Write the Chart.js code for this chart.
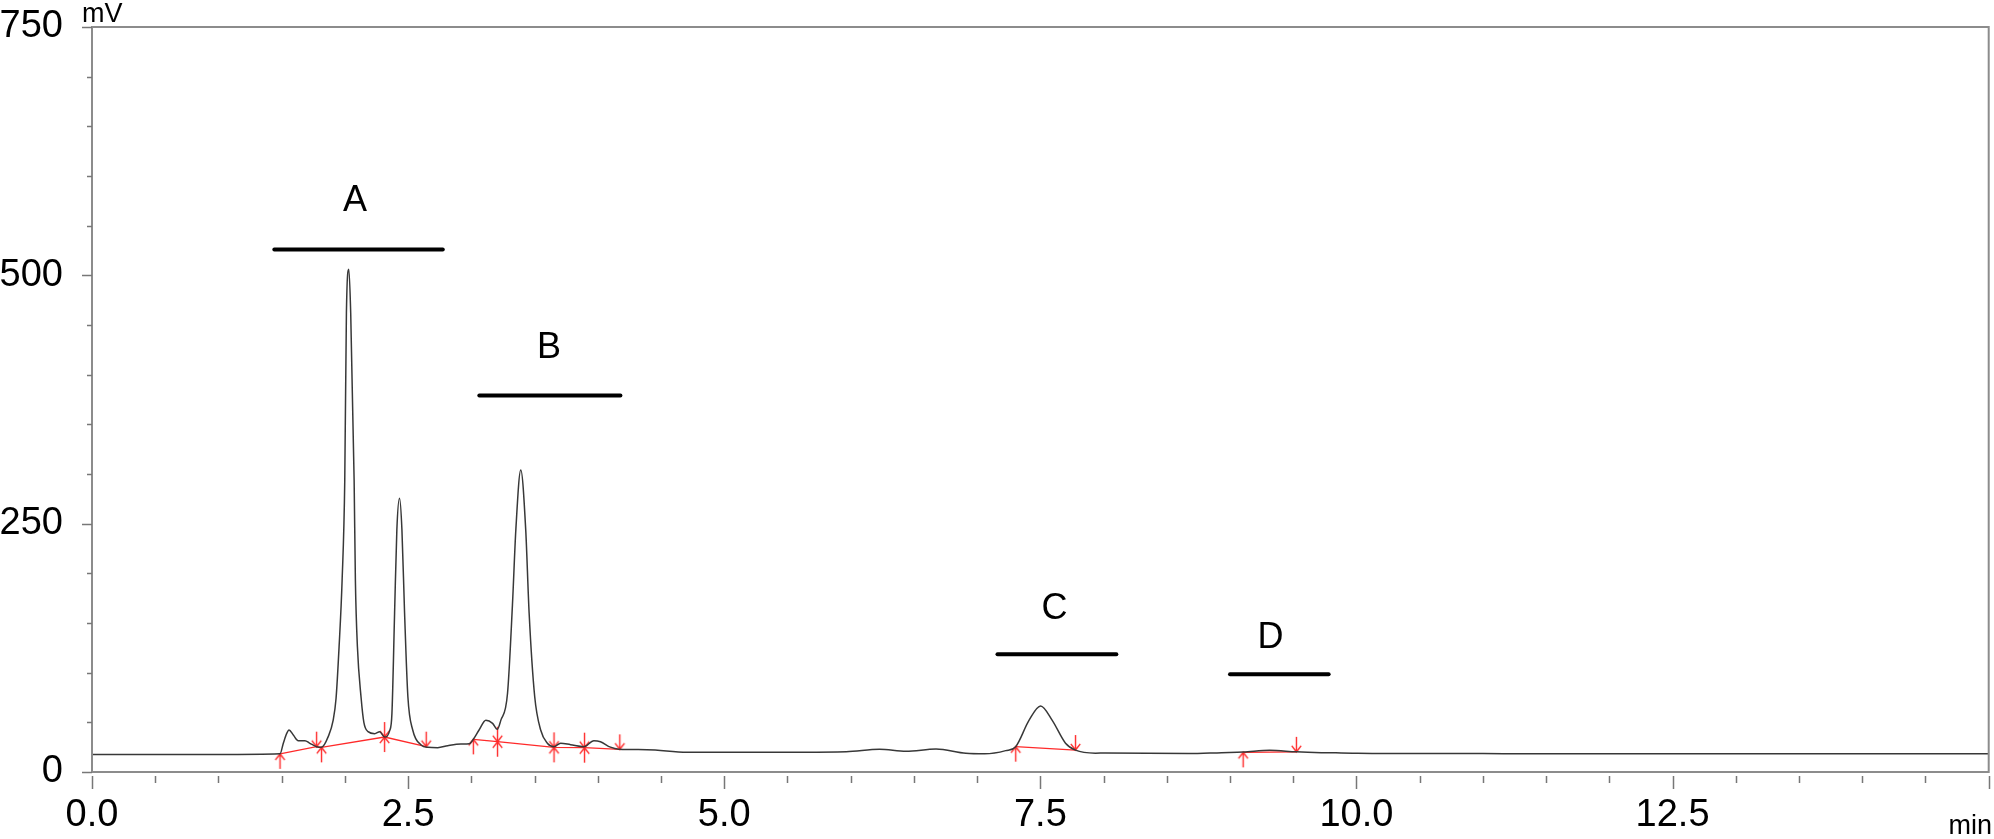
<!DOCTYPE html>
<html lang="en">
<head>
    <meta charset="UTF-8">
    <title>Chromatogram</title>
    <script src="https://cdn.jsdelivr.net/npm/chart.js"></script>
    <style>
        html, body { margin: 0; padding: 0; background: #fff; }
        canvas { display: block; }
    </style>
</head>
<body>
<canvas id="chromChart" width="1994" height="839"></canvas>

<script>
    // detector trace (retention time in min, signal in mV)
    const timeMin = [0.0, 1.0, 1.487, 1.513, 1.539, 1.558, 1.592, 1.631, 1.684, 1.723, 1.776, 1.815, 1.868, 1.907, 1.93, 1.954, 1.978, 1.999, 2.012, 2.031,
        2.046, 2.073, 2.083, 2.099, 2.128, 2.15, 2.183, 2.236, 2.275, 2.314, 2.354, 2.372, 2.393, 2.411, 2.432,
        2.451, 2.472, 2.498, 2.537, 2.603, 2.656, 2.734, 2.813, 2.918, 2.984, 3.016, 3.06, 3.115, 3.168, 3.205,
        3.233, 3.286, 3.325, 3.352, 3.391, 3.430, 3.457, 3.501, 3.549, 3.601, 3.654, 3.706, 3.785, 3.890, 3.969,
        4.021, 4.100, 4.166, 4.389, 4.705, 5.177, 5.965, 6.228, 6.438, 6.675, 6.911, 7.06, 7.226, 7.305, 7.410,
        7.502, 7.594, 7.699, 7.778, 7.936, 8.014, 8.671, 8.934, 9.104, 9.314, 9.525, 9.722, 9.879, 10.378, 11.0,
        12.5, 13.0, 15.0];
    const signalMv = [17.6, 17.6, 18.3, 28.9, 38.6, 42.3, 37.2, 31.5, 31.5, 28.9, 25.5, 24.8, 35.6, 52, 74, 126, 193, 294, 462, 506,
        462, 294, 193, 126, 75, 50, 40.6, 38.6, 40.6, 35.2, 41.6, 59, 160, 244, 275.5,
        244, 160, 76, 42, 27.2, 24.8, 24.5, 26.5, 28.2, 28.5, 33, 42, 52, 49, 43,
        52, 79, 168, 244, 304, 244, 160, 76, 42, 29, 25.5, 29, 27.5, 25.5, 31.5,
        30.5, 25, 23, 22.5, 20, 19.8, 20.5, 22.8, 20.8, 23.1, 18.8, 18.3, 21.5, 25.5, 52,
        66.5, 52, 29, 22, 19, 19.2, 18.5, 19.5, 20.1, 21.8, 20.3, 19.5, 19.2, 18.5, 18.5,
        18.3, 18.3, 18.3];

    // integration baseline marks
    const baseX = [1.487, 1.776, 1.815, 2.314, 2.643, 3.016, 3.207, 3.654, 3.895, 4.174, 7.305, 7.778, 9.104, 9.525];
    const baseY = [18.3, 25.5, 24.8, 35.2, 25.5, 32.9, 30.5, 24.8, 24.5, 22.8, 25.5, 22.1, 19.8, 20.3];
    const baseMark = ['up', 'down', 'up', 'both', 'down', 'up', 'both', 'both', 'both', 'down', 'up', 'down', 'up', 'down'];

    // peak groups
    const groupNames = ['A', 'B', 'C', 'D'];
    const groupStart = [1.442, 3.063, 7.161, 9.000];
    const groupEnd = [2.774, 4.179, 8.101, 9.780];
    const groupBarMv = [526, 379, 118.5, 98.3];
    const groupLabelMin = [2.08, 3.614, 7.612, 9.32];
    const groupLabelMv = [574.5, 426.5, 164, 135];

    const FONT = '"Liberation Sans", Arial, sans-serif';

    // arrow images used as point styles
    function makeArrow(kind) {
        const c = document.createElement('canvas');
        c.width = 13;
        c.height = 34;
        const g = c.getContext('2d');
        g.strokeStyle = '#ff2a2a';
        g.lineWidth = 1.4;
        g.beginPath();
        if (kind === 'down' || kind === 'both') {
            g.moveTo(6.5, 2); g.lineTo(6.5, 17);
            g.moveTo(1.8, 10.8); g.lineTo(6.5, 17); g.lineTo(11.2, 10.8);
        }
        if (kind === 'up' || kind === 'both') {
            g.moveTo(6.5, 17); g.lineTo(6.5, 32);
            g.moveTo(1.8, 23.2); g.lineTo(6.5, 17); g.lineTo(11.2, 23.2);
        }
        g.stroke();
        return c;
    }
    const arrows = { up: makeArrow('up'), down: makeArrow('down'), both: makeArrow('both') };

    const isMajor = (v, step) => Math.abs(v / step - Math.round(v / step)) < 1e-6;

    // frame, tick marks and text labels
    const decorPlugin = {
        id: 'decor',
        afterDraw(chart) {
            const { ctx, chartArea: a, scales: { x, y } } = chart;
            ctx.save();
            ctx.strokeStyle = '#8c8c8c';
            ctx.lineWidth = 2;
            ctx.strokeRect(a.left, a.top, a.right - a.left, a.bottom - a.top);

            ctx.strokeStyle = '#777';
            ctx.lineWidth = 1.5;
            ctx.beginPath();
            for (let v = 0; v <= 750; v += 50) {
                const py = Math.round(y.getPixelForValue(v)) + 0.5;
                ctx.moveTo(a.left, py);
                ctx.lineTo(a.left - (isMajor(v, 250) ? 10 : 5), py);
            }
            for (let i = 0; i <= 30; i++) {
                const v = i * 0.5;
                const px = Math.round(x.getPixelForValue(v)) + 0.5;
                ctx.moveTo(px, a.bottom + 4);
                ctx.lineTo(px, a.bottom + (isMajor(v, 2.5) ? 17 : 11));
            }
            ctx.stroke();

            ctx.fillStyle = '#000';
            ctx.font = '27px ' + FONT;
            ctx.textAlign = 'left';
            ctx.textBaseline = 'alphabetic';
            ctx.fillText('mV', a.left - 10, 22);
            ctx.textAlign = 'right';
            ctx.fillText('min', chart.width - 2, 834);

            ctx.font = '36px ' + FONT;
            ctx.textAlign = 'center';
            ctx.textBaseline = 'middle';
            groupNames.forEach((name, i) => {
                ctx.fillText(name, x.getPixelForValue(groupLabelMin[i]), y.getPixelForValue(groupLabelMv[i]));
            });
            ctx.restore();
        }
    };

    const traceData = timeMin.map((t, i) => ({ x: t, y: signalMv[i] }));
    const baseData = baseX.map((t, i) => ({ x: t, y: baseY[i] }));

    const barSets = groupNames.map((name, i) => ({
        label: name,
        data: [{ x: groupStart[i], y: groupBarMv[i] }, { x: groupEnd[i], y: groupBarMv[i] }],
        borderColor: '#000',
        borderWidth: 4,
        borderCapStyle: 'round',
        pointRadius: 0
    }));

    new Chart(document.getElementById('chromChart'), {
        type: 'line',
        data: {
            datasets: [
                {
                    label: 'Signal',
                    data: traceData,
                    borderColor: '#383838',
                    borderWidth: 1.5,
                    pointRadius: 0,
                    cubicInterpolationMode: 'monotone'
                },
                {
                    label: 'Baseline',
                    data: baseData,
                    borderColor: '#ff2a2a',
                    borderWidth: 1.3,
                    pointRadius: 3,
                    pointStyle: ctx => arrows[baseMark[ctx.dataIndex]],
                    segment: {
                        borderColor: ctx => (baseMark[ctx.p0DataIndex] === 'down' &&
                            baseX[ctx.p1DataIndex] - baseX[ctx.p0DataIndex] > 0.1) ? 'rgba(0,0,0,0)' : '#ff2a2a'
                    }
                },
                ...barSets
            ]
        },
        options: {
            responsive: false,
            animation: false,
            devicePixelRatio: 1,
            layout: { padding: { top: 27, right: 4, left: 0, bottom: 0 } },
            plugins: {
                legend: { display: false },
                tooltip: { enabled: false }
            },
            scales: {
                x: {
                    type: 'linear',
                    min: 0,
                    max: 15,
                    afterFit: s => { s.height = 67; },
                    border: { display: false },
                    grid: { drawOnChartArea: false, tickLength: 18, color: 'rgba(0,0,0,0)' },
                    ticks: {
                        stepSize: 0.5,
                        autoSkip: false,
                        maxRotation: 0,
                        padding: 3,
                        color: '#000',
                        font: { size: 38, family: FONT },
                        callback: v => (isMajor(v, 2.5) && v < 15) ? v.toFixed(1) : ''
                    }
                },
                y: {
                    min: 0,
                    max: 750,
                    afterFit: s => { s.width = 92; },
                    border: { display: false },
                    grid: { drawOnChartArea: false, tickLength: 29, color: 'rgba(0,0,0,0)' },
                    ticks: {
                        stepSize: 50,
                        autoSkip: false,
                        padding: 0,
                        color: '#000',
                        font: { size: 38, family: FONT, lineHeight: 1.0 },
                        callback: v => isMajor(v, 250) ? String(v) : ''
                    }
                }
            }
        },
        plugins: [decorPlugin]
    });
</script>
</body>
</html>
